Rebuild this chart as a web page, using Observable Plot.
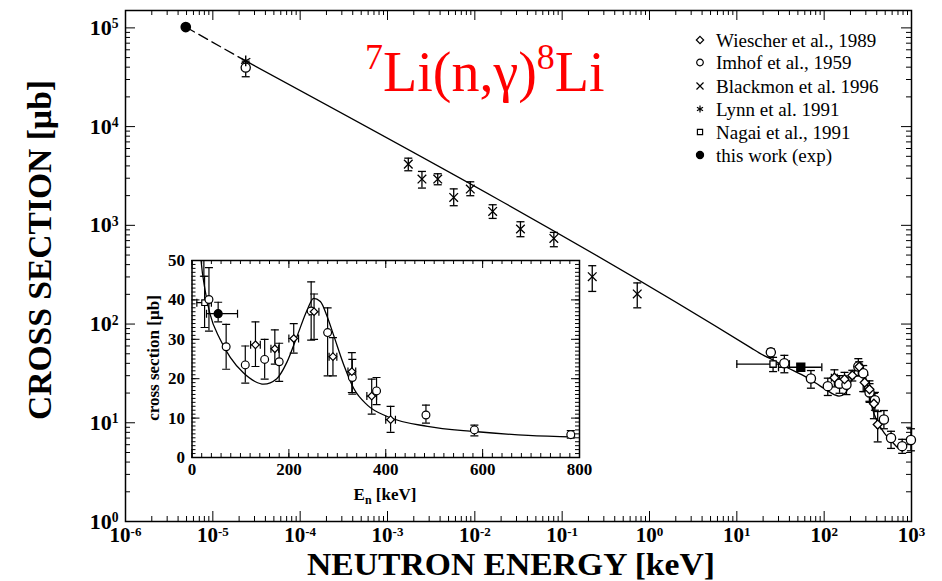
<!DOCTYPE html>
<html><head><meta charset="utf-8">
<script src="https://cdn.jsdelivr.net/npm/d3@7"></script>
<script src="https://cdn.jsdelivr.net/npm/@observablehq/plot@0.6"></script>
<style>
html,body{margin:0;padding:0;background:#fff;}
#wrap{position:relative;width:942px;height:581px;overflow:hidden;background:#fff;}
#main,#inset,#over{position:absolute;left:0;top:0;}
#inset{left:145px;top:240px;}
#over{pointer-events:none;}
</style></head><body>
<div id="wrap"><div id="main"></div><div id="inset"></div><svg id="over" width="942" height="581"></svg></div>
<script>
// ---------------- data (E in keV, cross section in µb) ----------------
const xTickValues = [1e-6, 1e-5, 1e-4, 1e-3, 1e-2, 1e-1, 1, 10, 100, 1000];
const xTickLabels = ["10^-6","10^-5","10^-4","10^-3","10^-2","10^-1","10^0","10^1","10^2","10^3"];
const yTickValues = [1, 10, 100, 1000, 1e4, 1e5];
const yTickLabels = ["10^0","10^1","10^2","10^3","10^4","10^5"];
const insetXTicks = [0, 200, 400, 600, 800];
const insetYTicks = [0, 10, 20, 30, 40, 50];

// Wiescher et al., 1989 (open diamonds)
const wiescherE   = [131, 171, 210, 252, 291, 330, 371, 410];
const wiescherS   = [28.6, 27.6, 30.2, 37.0, 25.6, 21.8, 15.6, 9.6];
const wiescherLo  = [23.1, 23.7, 26.5, 30.0, 20.7, 16.5, 11.0, 6.4];
const wiescherHi  = [34.4, 32.4, 34.0, 41.5, 30.4, 26.6, 19.9, 13.0];
const wiescherXLo = [121, 163, 200, 242, 283, 322, 361, 400];
const wiescherXHi = [141, 179, 220, 262, 299, 338, 381, 420];

// Imhof et al., 1959 (open circles)
const imhofE  = [2.38e-5, 24.5, 35, 70.5, 110, 150, 180, 246, 280, 331, 381, 483, 583, 782, 985];
const imhofS  = [39600, 51.7, 40.1, 28.1, 23.5, 24.9, 24.3, 37.2, 31.7, 20.3, 16.9, 10.8, 7.0, 5.8, 6.7];
const imhofLo = [32000, 46, 32.1, 22.4, 18.9, 19.9, 19.3, 29.8, 20.7, 16.1, 13.4, 8.7, 5.5, 4.9, 5.2];
const imhofHi = [46000, 56, 48.2, 33.8, 28.3, 30.0, 29.0, 44.6, 38.0, 24.9, 20.3, 13.3, 8.2, 6.8, 8.7];

// Blackmon et al. 1996 (crosses)
const blackmonE  = [1.73e-3, 2.48e-3, 3.76e-3, 5.73e-3, 8.87e-3, 0.0160, 0.0333, 0.0803, 0.221, 0.724];
const blackmonS  = [4170, 2940, 2940, 1915, 2330, 1383, 918, 737, 302, 202];
const blackmonLo = [3570, 2385, 2575, 1580, 1995, 1175, 767, 607, 214, 146];
const blackmonHi = [4790, 3515, 3330, 2340, 2760, 1616, 1087, 848, 390, 261];

// Lynn et al. 1991 (asterisk)
const lynnE = [2.38e-5];
const lynnS = [46300];

// Nagai et al., 1991 (open square)
const nagaiE = [26], nagaiS = [39.3], nagaiLo = [33], nagaiHi = [46], nagaiXLo = [10], nagaiXHi = [40];

// this work (exp) (filled)
const thisWorkE   = [4.9e-6, 54];
const thisWorkS   = [1.02e5, 36.5];
const thisWorkLo  = [null, 34.4];
const thisWorkHi  = [null, 39.4];
const thisWorkXLo = [null, 30];
const thisWorkXHi = [null, 94];

// fit curve
const fitDashE = [4.9e-6, 2.4e-5];
const fitDashS = [1.02e5, 46000];
const fitE = [2.4e-5, 14.7, 18, 27, 37, 58, 79, 106, 130, 148, 175, 196, 217, 238, 251, 265, 279, 293, 314, 334, 362, 403, 486, 583, 694, 790];
const fitS = [46000, 57, 51, 42.5, 36.5, 30, 25.4, 21.5, 19.3, 18.6, 20, 24.2, 30.8, 37.5, 40.4, 39.6, 35.8, 30.8, 23.3, 17.5, 13.3, 10.4, 7.9, 6.6, 5.6, 5.2];

// ---------------- helpers ----------------
const rows = (E, S, Lo, Hi, XLo, XHi) => E.map((e, i) => ({
  E: e, S: S[i],
  lo: Lo ? Lo[i] : null, hi: Hi ? Hi[i] : null,
  xlo: XLo ? XLo[i] : null, xhi: XHi ? XHi[i] : null, i
}));
const wiescher = rows(wiescherE, wiescherS, wiescherLo, wiescherHi, wiescherXLo, wiescherXHi);
const imhof = rows(imhofE, imhofS, imhofLo, imhofHi);
const blackmon = rows(blackmonE, blackmonS, blackmonLo, blackmonHi);
const lynn = rows(lynnE, lynnS);
const nagai = rows(nagaiE, nagaiS, nagaiLo, nagaiHi, nagaiXLo, nagaiXHi);
const thisWork = rows(thisWorkE, thisWorkS, thisWorkLo, thisWorkHi, thisWorkXLo, thisWorkXHi);
const fitDash = fitDashE.map((e, i) => ({E: e, S: fitDashS[i]}));
const fit = fitE.map((e, i) => ({E: e, S: fitS[i]}));

const hcap = {draw(ctx, size) { const r = Math.sqrt(size / Math.PI); ctx.moveTo(-r, 0); ctx.lineTo(r, 0); }};
const vcap = {draw(ctx, size) { const r = Math.sqrt(size / Math.PI); ctx.moveTo(0, -r); ctx.lineTo(0, r); }};

function errMarks(data, capR, sw, clip) {
  const ys = data.filter(d => d.lo != null && d.hi != null);
  const xs = data.filter(d => d.xlo != null && d.xhi != null);
  const o = {stroke: "black", strokeWidth: sw, clip};
  return [
    Plot.ruleX(ys, {x: "E", y1: "lo", y2: "hi", ...o}),
    Plot.dot(ys, {x: "E", y: "lo", symbol: hcap, r: capR, fill: "none", ...o}),
    Plot.dot(ys, {x: "E", y: "hi", symbol: hcap, r: capR, fill: "none", ...o}),
    Plot.ruleY(xs, {y: "S", x1: "xlo", x2: "xhi", ...o}),
    Plot.dot(xs, {x: "xlo", y: "S", symbol: vcap, r: capR, fill: "none", ...o}),
    Plot.dot(xs, {x: "xhi", y: "S", symbol: vcap, r: capR, fill: "none", ...o})
  ];
}

function supLabels(svg) {
  d3.select(svg).selectAll('g[aria-label$="tick label"] text').each(function () {
    const s = this.textContent;
    if (s.indexOf("^") < 0) return;
    const [b, e] = s.split("^");
    const t = d3.select(this);
    t.text(null);
    t.append("tspan").text(b);
    t.append("tspan").attr("dy", "-0.48em").attr("font-size", "0.62em").text(e);
  });
}

// ---------------- main plot ----------------
const W = 942, H = 581, mL = 125, mR = 31, mT = 10, mB = 60;
const iW = W - mL - mR, iH = H - mT - mB;
const minX = [], minY = [];
xTickValues.slice(0, -1).forEach(d => { for (let k = 2; k <= 9; k++) minX.push(d * k); });
yTickValues.slice(0, -1).forEach(d => { for (let k = 2; k <= 9; k++) minY.push(d * k); });

const main = Plot.plot({
  width: W, height: H, marginLeft: mL, marginRight: mR, marginTop: mT, marginBottom: mB,
  x: {type: "log", domain: [1e-6, 1e3]},
  y: {type: "log", domain: [1, 1.5e5]},
  style: {fontFamily: "'Liberation Serif', 'Times New Roman', serif", fontSize: "22px", fontWeight: "bold", background: "transparent", color: "black", overflow: "visible"},
  marks: [
    Plot.tickX(minX, {x: d => d, insetTop: iH - 5, stroke: "black"}),
    Plot.tickX(xTickValues, {x: d => d, insetTop: iH - 10, stroke: "black"}),
    Plot.tickX(minX, {x: d => d, insetBottom: iH - 5, stroke: "black"}),
    Plot.tickX(xTickValues, {x: d => d, insetBottom: iH - 10, stroke: "black"}),
    Plot.tickY(minY, {y: d => d, insetRight: iW - 5, stroke: "black"}),
    Plot.tickY(yTickValues, {y: d => d, insetRight: iW - 10, stroke: "black"}),
    Plot.tickY(minY, {y: d => d, insetLeft: iW - 5, stroke: "black"}),
    Plot.tickY(yTickValues, {y: d => d, insetLeft: iW - 10, stroke: "black"}),
    Plot.frame({stroke: "black", strokeWidth: 1.5}),
    Plot.axisX({ticks: xTickValues, tickFormat: d => xTickLabels[xTickValues.indexOf(d)], tickSize: 0, tickPadding: 6, fontSize: 21, label: null}),
    Plot.axisY({ticks: yTickValues, tickFormat: d => yTickLabels[yTickValues.indexOf(d)], tickSize: 0, tickPadding: 7, label: null}),
    Plot.line(fitDash, {x: "E", y: "S", stroke: "black", strokeWidth: 1.3, strokeDasharray: "10,5"}),
    Plot.line(fit, {x: "E", y: "S", stroke: "black", strokeWidth: 1.3, curve: "monotone-x"}),
    ...errMarks(imhof, 4, 1.3, false),
    ...errMarks(wiescher, 4, 1.3, false),
    ...errMarks(blackmon, 4, 1.3, false),
    ...errMarks(nagai, 4, 1.3, false),
    ...errMarks(thisWork, 4, 1.3, false),
    Plot.dot(nagai, {x: "E", y: "S", symbol: "square2", r: 4, fill: "white", stroke: "black", strokeWidth: 1.3}),
    Plot.dot(imhof, {x: "E", y: "S", symbol: "circle", r: 4.6, fill: "white", stroke: "black", strokeWidth: 1.3}),
    Plot.dot(wiescher, {x: "E", y: "S", symbol: "diamond2", r: 4, fill: "white", stroke: "black", strokeWidth: 1.3}),
    Plot.dot(blackmon, {x: "E", y: "S", symbol: "times", r: 4, stroke: "black", strokeWidth: 1.3}),
    Plot.dot(lynn, {x: "E", y: "S", symbol: "asterisk", r: 5, stroke: "black", strokeWidth: 1.4}),
    Plot.dot(thisWork.filter(d => d.i === 0), {x: "E", y: "S", symbol: "circle", r: 4.6, fill: "black", stroke: "black"}),
    Plot.dot(thisWork.filter(d => d.i === 1), {x: "E", y: "S", symbol: "square", r: 4.4, fill: "black", stroke: "black"})
  ]
});
supLabels(main);
document.getElementById("main").append(main);

// ---------------- inset plot ----------------
const IW = 455, IH = 270, imL = 46.5, imR = 21, imT = 20, imB = 53;
const iiW = IW - imL - imR, iiH = IH - imT - imB;
const inMinX = d3.range(0, 801, 20), inMinY = d3.range(0, 51, 1);
const inset = Plot.plot({
  width: IW, height: IH, marginLeft: imL, marginRight: imR, marginTop: imT, marginBottom: imB,
  x: {domain: [0, 800]},
  y: {domain: [0, 50]},
  style: {fontFamily: "'Liberation Serif', 'Times New Roman', serif", fontSize: "17px", fontWeight: "bold", background: "transparent", color: "black", overflow: "visible"},
  marks: [
    Plot.tickX(inMinX, {x: d => d, insetTop: iiH - 4, stroke: "black"}),
    Plot.tickX(insetXTicks, {x: d => d, insetTop: iiH - 8, stroke: "black"}),
    Plot.tickX(inMinX, {x: d => d, insetBottom: iiH - 4, stroke: "black"}),
    Plot.tickX(insetXTicks, {x: d => d, insetBottom: iiH - 8, stroke: "black"}),
    Plot.tickY(inMinY, {y: d => d, insetRight: iiW - 4, stroke: "black"}),
    Plot.tickY(insetYTicks, {y: d => d, insetRight: iiW - 8, stroke: "black"}),
    Plot.tickY(inMinY, {y: d => d, insetLeft: iiW - 4, stroke: "black"}),
    Plot.tickY(insetYTicks, {y: d => d, insetLeft: iiW - 8, stroke: "black"}),
    Plot.frame({stroke: "black", strokeWidth: 1.5}),
    Plot.axisX({ticks: insetXTicks, tickSize: 0, tickPadding: 5, label: null}),
    Plot.axisY({ticks: insetYTicks, tickSize: 0, tickPadding: 7, label: null}),
    Plot.line(fit, {x: "E", y: "S", stroke: "black", strokeWidth: 1.3, curve: "monotone-x", clip: true}),
    ...errMarks(imhof, 4, 1.2, true),
    ...errMarks(wiescher, 4, 1.2, true),
    ...errMarks(nagai, 4, 1.2, true),
    ...errMarks(thisWork, 4, 1.2, true),
    Plot.dot(nagai, {x: "E", y: "S", symbol: "square2", r: 3.6, fill: "white", stroke: "black", strokeWidth: 1.2, clip: true}),
    Plot.dot(imhof, {x: "E", y: "S", symbol: "circle", r: 3.9, fill: "white", stroke: "black", strokeWidth: 1.2, clip: true}),
    Plot.dot(wiescher, {x: "E", y: "S", symbol: "diamond2", r: 3.4, fill: "white", stroke: "black", strokeWidth: 1.2, clip: true}),
    Plot.dot(thisWork, {x: "E", y: "S", symbol: "circle", r: 3.9, fill: "black", stroke: "black", clip: true})
  ]
});
document.getElementById("inset").append(inset);

// ---------------- titles, legend ----------------
const over = d3.select("#over");
const serif = "'Liberation Serif', 'Times New Roman', serif";
// reaction title
const tt = over.append("text").attr("x", 365).attr("y", 91).attr("fill", "#ff0000")
  .attr("font-family", serif).attr("font-size", 56);
tt.append("tspan").attr("font-size", 36).attr("dy", -22).text("7");
tt.append("tspan").attr("dy", 22).text("Li(n,γ)");
tt.append("tspan").attr("font-size", 36).attr("dy", -22).text("8");
tt.append("tspan").attr("dy", 22).text("Li");

// main axis titles
over.append("text").attr("x", 511).attr("y", 574.5).attr("text-anchor", "middle")
  .attr("font-family", serif).attr("font-weight", "bold").attr("font-size", 31)
  .attr("textLength", 408).attr("lengthAdjust", "spacingAndGlyphs").text("NEUTRON ENERGY [keV]");
over.append("text").attr("transform", "translate(51,250) rotate(-90)").attr("text-anchor", "middle")
  .attr("font-family", serif).attr("font-weight", "bold").attr("font-size", 33)
  .attr("textLength", 340).attr("lengthAdjust", "spacingAndGlyphs").text("CROSS SECTION [µb]");

// inset axis titles
over.append("text").attr("transform", "translate(159,358) rotate(-90)").attr("text-anchor", "middle")
  .attr("font-family", serif).attr("font-weight", "bold").attr("font-size", 17).text("cross section [µb]");
const ex = over.append("text").attr("x", 385).attr("y", 500).attr("text-anchor", "middle")
  .attr("font-family", serif).attr("font-weight", "bold").attr("font-size", 17);
ex.append("tspan").text("E");
ex.append("tspan").attr("font-size", 12).attr("dy", 4).text("n");
ex.append("tspan").attr("dy", -4).text(" [keV]");

// legend
const legendLabels = ["Wiescher et al., 1989", "Imhof et al., 1959", "Blackmon et al. 1996", "Lynn et al. 1991", "Nagai et al., 1991", "this work (exp)"];
const legendSymbols = [d3.symbolDiamond2, d3.symbolCircle, d3.symbolTimes, d3.symbolAsterisk, d3.symbolSquare2, d3.symbolCircle];
const legendFill = ["white", "white", "none", "none", "white", "black"];
const legendY = [40, 62.5, 86, 109, 132, 155];
legendLabels.forEach((lab, i) => {
  over.append("path").attr("transform", `translate(700,${legendY[i]})`)
    .attr("d", d3.symbol(legendSymbols[i], i === 5 ? 40 : 34)())
    .attr("fill", legendFill[i]).attr("stroke", "black").attr("stroke-width", 1.2);
  over.append("text").attr("x", 716).attr("y", legendY[i] + 6.5)
    .attr("font-family", serif).attr("font-size", 19).text(lab);
});
</script></body></html>
